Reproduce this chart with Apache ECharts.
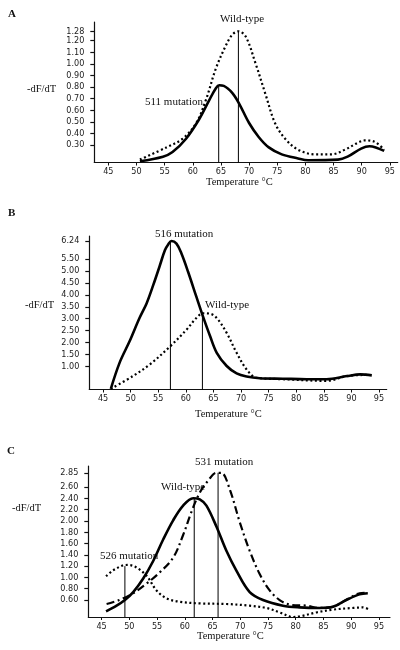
<!DOCTYPE html>
<html><head><meta charset="utf-8">
<script src="https://cdn.jsdelivr.net/npm/echarts@6/dist/echarts.min.js"></script>
<style>html,body{margin:0;padding:0;background:#fff}#c{width:400px;height:650px}</style>
</head><body><div id="c"></div>
<script>
// ---------- data ----------
const xTickLabels = [45,50,55,60,65,70,75,80,85,90,95];

// Panel A
const yTicksA = [0.30,0.40,0.50,0.60,0.70,0.80,0.90,1.00,1.10,1.20,1.28];
const tempA_mut = [50.6,54.7,56.4,58.8,61.1,62.9,64.1,64.7,65.5,67.0,68.2,70.0,71.7,73.5,75.8,78.7,80.5,85.8,87.5,89.9,91.4,92.5,94.0];
const dfA_mut   = [0.16,0.20,0.24,0.355,0.52,0.685,0.79,0.815,0.81,0.75,0.66,0.49,0.37,0.28,0.22,0.185,0.17,0.175,0.20,0.27,0.29,0.28,0.25];
const tempA_wt  = [50.6,55.3,58.2,60.6,62.3,64.1,65.8,67.0,68.1,69.4,71.1,72.9,74.6,76.4,78.7,81.7,84.6,87.0,89.3,90.5,92.2,94.0];
const dfA_wt    = [0.175,0.28,0.355,0.49,0.685,0.96,1.15,1.25,1.28,1.235,1.01,0.74,0.49,0.355,0.26,0.22,0.22,0.26,0.32,0.34,0.33,0.26];
const peaksA = [[64.6,0.81],[68.1,1.28]];

// Panel B
const yTicksB = [1.00,1.50,2.00,2.50,3.00,3.50,4.00,4.50,5.00,5.50,6.24];
const tempB_mut = [46.4,48.0,49.8,51.6,52.9,54.1,55.3,56.2,56.8,57.4,58.3,59.2,60.4,61.9,63.1,64.4,65.6,67.4,69.2,71.0,73.4,77.6,81.9,85.5,89.2,91.6,93.7];
const dfB_mut   = [0.08,1.17,2.06,3.03,3.65,4.41,5.23,5.86,6.10,6.24,6.13,5.72,4.96,3.92,3.10,2.27,1.58,1.03,0.72,0.59,0.52,0.50,0.48,0.48,0.61,0.68,0.64];
const tempB_wt  = [46.4,50.4,53.5,57.2,60.1,61.9,63.1,64.4,65.6,67.4,69.2,71.0,72.8,77.6,85.5,89.2,92.8];
const dfB_wt    = [0.08,0.61,1.10,1.86,2.54,3.03,3.23,3.21,3.03,2.41,1.58,0.89,0.54,0.48,0.41,0.61,0.66];
const peaksB = [[57.2,6.24],[63.0,3.23]];

// Panel C
const yTicksC = [0.60,0.80,1.00,1.20,1.40,1.60,1.80,2.00,2.20,2.40,2.60,2.85];
const tempC_wt  = [45.8,47.7,49.2,50.7,52.5,54.3,56.1,57.9,59.7,61.5,62.7,63.9,65.7,67.5,69.3,71.7,74.1,77.7,80.7,84.3,86.7,89.1,91.5,93.0];
const dfC_wt    = [0.40,0.50,0.60,0.74,0.98,1.29,1.67,2.01,2.27,2.40,2.38,2.27,1.90,1.47,1.12,0.74,0.60,0.50,0.47,0.46,0.48,0.60,0.70,0.72];
const tempC_531 = [45.9,48.2,50.7,53.1,55.5,57.9,59.7,61.2,62.7,64.2,65.7,66.6,68.1,69.9,71.7,73.5,75.3,77.1,78.9,81.9,84.3,86.7,89.1,91.5,93.0];
const dfC_531   = [0.53,0.60,0.72,0.89,1.09,1.35,1.75,2.16,2.50,2.71,2.85,2.85,2.56,1.98,1.47,1.06,0.77,0.60,0.52,0.50,0.46,0.48,0.60,0.72,0.73];
const tempC_526 = [45.8,47.0,48.8,49.7,51.2,53.1,54.9,56.7,59.1,62.7,67.5,71.7,74.7,77.1,78.9,79.5,80.7,83.7,86.7,90.3,92.1,93.3];
const dfC_526   = [1.02,1.12,1.21,1.22,1.18,1.03,0.77,0.63,0.57,0.54,0.53,0.50,0.46,0.38,0.31,0.30,0.31,0.38,0.43,0.46,0.47,0.43];
const peaksC = [[49.2,1.20],[61.7,2.40],[66.0,2.85]];

// ---------- chart ----------
const zip = (a,b) => a.map((v,i)=>[v,b[i]]);
const tickFont = "'Liberation Sans Narrow','Arial Narrow','DejaVu Sans Condensed',sans-serif";
const serif = "'Liberation Serif','Times New Roman',serif";

const panels = [
  {grid:{left:94.3,right:2.3,top:22,bottom:487.5}, x:[42.5,96.4], y:[0.15,1.36], yt:yTicksA},
  {grid:{left:89.3,right:13.3,top:236,bottom:260.5}, x:[42.5,96.4], y:[0.05,6.45], yt:yTicksB},
  {grid:{left:88.3,right:10,top:466,bottom:33}, x:[42.6,97.0], y:[0.30,2.97], yt:yTicksC}
];

const grids=[], xAxes=[], yAxes=[], series=[];
panels.forEach((p,i)=>{
  grids.push(p.grid);
  xAxes.push({type:'value', gridIndex:i, min:p.x[0], max:p.x[1],
    axisLine:{show:true,onZero:false,lineStyle:{color:'#111',width:1.2}},
    axisTick:{show:true,length:3,customValues:xTickLabels,lineStyle:{color:'#111'}},
    axisLabel:{customValues:xTickLabels,margin:5,fontFamily:tickFont,fontSize:9,color:'#222'},
    splitLine:{show:false}});
  yAxes.push({type:'value', gridIndex:i, min:p.y[0], max:p.y[1],
    axisLine:{show:true,onZero:false,lineStyle:{color:'#111',width:1.2}},
    axisTick:{show:true,length:4,customValues:p.yt,lineStyle:{color:'#111',width:1.2}},
    axisLabel:{customValues:p.yt,margin:10,fontFamily:tickFont,fontSize:9,color:'#222',
      formatter:v=>v.toFixed(2)},
    splitLine:{show:false}});
});

const solid = {color:'#000',width:2.6};
const dotted = {color:'#000',width:2.2,type:[2,2.6]};
const dashdot = {color:'#000',width:2.2,type:[8,3.5,2,3.5]};
function curve(i,t,v,ls){
  series.push({type:'line',xAxisIndex:i,yAxisIndex:i,data:zip(t,v),smooth:0.35,
    showSymbol:false,symbol:'none',lineStyle:ls,silent:true,z:3});
}
function drops(i,peaks){
  peaks.forEach(pk=>{
    series.push({type:'line',xAxisIndex:i,yAxisIndex:i,
      data:[[pk[0],panels[i].y[0]],[pk[0],pk[1]]],
      showSymbol:false,symbol:'none',lineStyle:{color:'#000',width:1},silent:true,z:2});
  });
}
curve(0,tempA_wt,dfA_wt,dotted);
curve(0,tempA_mut,dfA_mut,solid);
drops(0,peaksA);
curve(1,tempB_wt,dfB_wt,dotted);
curve(1,tempB_mut,dfB_mut,solid);
drops(1,peaksB);
curve(2,tempC_526,dfC_526,dotted);
curve(2,tempC_531,dfC_531,dashdot);
curve(2,tempC_wt,dfC_wt,solid);
drops(2,peaksC);

const txt = (x,y,s,opt={}) => ({type:'text',left:x,top:y,
  style:Object.assign({text:s,fontFamily:serif,fontSize:11,fill:'#111'},opt)});
const graphics = [
  txt(8,9,'A',{fontWeight:'bold',fontSize:11}),
  txt(8,208,'B',{fontWeight:'bold',fontSize:11}),
  txt(7,446,'C',{fontWeight:'bold',fontSize:11}),
  txt(27,84,'-dF/dT',{fontSize:10.5}),
  txt(25,300,'-dF/dT',{fontSize:10.5}),
  txt(12,503,'-dF/dT',{fontSize:10.5}),
  txt(206,177,'Temperature °C',{fontSize:10.5}),
  txt(195,409,'Temperature °C',{fontSize:10.5}),
  txt(197,631,'Temperature °C',{fontSize:10.5}),
  txt(220,14,'Wild-type'),
  txt(145,97,'511 mutation'),
  txt(155,229,'516 mutation'),
  txt(205,300,'Wild-type'),
  txt(195,457,'531 mutation'),
  txt(161,482,'Wild-type'),
  txt(100,551,'526 mutation')
];

const chart = echarts.init(document.getElementById('c'),null,{renderer:'canvas'});
chart.setOption({animation:false,backgroundColor:'#fff',grid:grids,xAxis:xAxes,yAxis:yAxes,series:series,graphic:graphics});
</script></body></html>
